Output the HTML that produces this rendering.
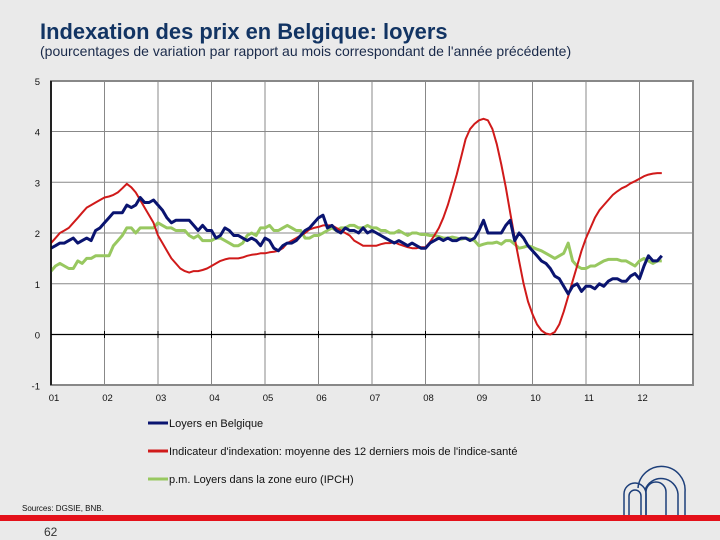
<!DOCTYPE html>
<html><head><meta charset="utf-8"><style>
body{margin:0;background:#eaeaea;}
svg{display:block;font-family:"Liberation Sans",sans-serif;}
</style></head><body>
<svg id="c" width="720" height="540">
<rect width="720" height="540" fill="#eaeaea"/>
<text x="40" y="39" font-size="21.9" font-weight="bold" fill="#123463">Indexation des prix en Belgique: loyers</text>
<text x="40" y="56" font-size="14" fill="#1a2a4a">(pourcentages de variation par rapport au mois correspondant de l'année précédente)</text>
<rect x="51" y="81" width="642" height="304" fill="#fff" stroke="#888" stroke-width="2"/>
<g id="grid"></g><g id="series"></g><g id="axes"></g>
<g>
<line x1="148" y1="423" x2="168" y2="423" stroke="#0a1470" stroke-width="3"/>
<text x="169" y="427" font-size="11" fill="#111">Loyers en Belgique</text>
<line x1="148" y1="451" x2="168" y2="451" stroke="#d01a1a" stroke-width="3"/>
<text x="169" y="455" font-size="11" fill="#111">Indicateur d'indexation: moyenne des 12 derniers mois de l'indice-santé</text>
<line x1="148" y1="479" x2="168" y2="479" stroke="#98c860" stroke-width="3"/>
<text x="169" y="483" font-size="11" fill="#111">p.m. Loyers dans la zone euro (IPCH)</text>
</g>
<text x="22" y="511" font-size="8" fill="#111">Sources: DGSIE, BNB.</text>
<rect x="0" y="515" width="720" height="6" fill="#e4111a"/>
<text x="44" y="536" font-size="12" fill="#333">62</text>
<g fill="none" stroke="#1d3f7a" stroke-width="1.5">
<path d="M624 515 V494 A11 11 0 0 1 646 494 V515"/>
<path d="M629 515 V496 A6 6 0 0 1 641 496 V515"/>
<path d="M646 515 V492 A10 10 0 0 1 666 492 V515"/>
<path d="M638 488 A23 23 0 0 1 685 492 V515"/>
<path d="M645 490 A17 17 0 0 1 678 494 V515"/>
</g>
</svg>
<script>
const yearLabels=["01","02","03","04","05","06","07","08","09","10","11","12"];
const yTicks=[-1,0,1,2,3,4,5];
const blue=[1.7,1.75,1.8,1.8,1.85,1.9,1.8,1.85,1.9,1.85,2.05,2.1,
2.2,2.3,2.4,2.4,2.4,2.55,2.5,2.55,2.7,2.6,2.6,2.65,
2.55,2.45,2.3,2.2,2.25,2.25,2.25,2.25,2.15,2.05,2.15,2.05,
2.05,1.9,1.95,2.1,2.05,1.95,1.95,1.9,1.85,1.9,1.85,1.75,
1.9,1.85,1.7,1.65,1.75,1.8,1.8,1.85,1.95,2.05,2.1,2.2,
2.3,2.35,2.1,2.15,2.05,2.0,2.1,2.05,2.05,2.0,2.1,2.0,
2.05,2.0,1.95,1.9,1.85,1.8,1.85,1.8,1.75,1.8,1.75,1.7,
1.7,1.8,1.85,1.9,1.85,1.9,1.85,1.85,1.9,1.9,1.85,1.9,
2.05,2.25,2.0,2.0,2.0,2.0,2.15,2.25,1.85,2.0,1.9,1.75,
1.65,1.55,1.45,1.4,1.3,1.15,1.1,0.95,0.8,0.95,1.0,0.85,
0.95,0.95,0.9,1.0,0.95,1.05,1.1,1.1,1.05,1.05,1.15,1.2,
1.1,1.35,1.55,1.45,1.45,1.55];
const red=[1.8,1.9,2.0,2.05,2.1,2.2,2.3,2.4,2.5,2.55,2.6,2.65,
2.7,2.72,2.75,2.8,2.88,2.97,2.9,2.8,2.65,2.5,2.35,2.2,
1.95,1.8,1.65,1.5,1.4,1.3,1.25,1.22,1.25,1.25,1.27,1.3,
1.35,1.4,1.45,1.48,1.5,1.5,1.5,1.52,1.55,1.57,1.58,1.6,
1.6,1.62,1.63,1.65,1.7,1.8,1.85,1.9,1.95,2.0,2.07,2.1,
2.12,2.15,2.15,2.15,2.1,2.05,2.0,1.95,1.85,1.8,1.75,1.75,
1.75,1.75,1.78,1.8,1.8,1.82,1.78,1.75,1.72,1.7,1.7,1.72,
1.72,1.82,1.95,2.1,2.3,2.55,2.85,3.15,3.5,3.85,4.05,4.15,
4.22,4.25,4.22,4.05,3.75,3.35,2.9,2.4,1.9,1.45,1.0,0.65,
0.4,0.2,0.08,0.02,0.0,0.05,0.2,0.45,0.75,1.05,1.35,1.65,
1.9,2.1,2.3,2.45,2.55,2.65,2.75,2.82,2.88,2.92,2.98,3.02,
3.07,3.12,3.15,3.17,3.18,3.18];
const green=[1.25,1.35,1.4,1.35,1.3,1.3,1.45,1.4,1.5,1.5,1.55,1.55,
1.55,1.55,1.75,1.85,1.95,2.1,2.1,2.0,2.1,2.1,2.1,2.1,
2.2,2.15,2.1,2.1,2.05,2.05,2.05,1.95,1.9,1.95,1.85,1.85,
1.85,1.9,1.9,1.85,1.8,1.75,1.75,1.8,1.95,2.0,1.95,2.1,
2.1,2.15,2.05,2.05,2.1,2.15,2.1,2.05,2.05,1.9,1.9,1.95,
1.95,2.0,2.05,2.1,2.05,2.1,2.1,2.15,2.15,2.1,2.1,2.15,
2.1,2.1,2.05,2.05,2.0,2.0,2.05,2.0,1.95,2.0,2.0,1.97,
1.97,1.95,1.95,1.93,1.9,1.9,1.92,1.9,1.88,1.9,1.88,1.85,
1.75,1.78,1.8,1.8,1.82,1.78,1.85,1.85,1.78,1.7,1.72,1.75,
1.72,1.68,1.65,1.6,1.55,1.5,1.55,1.6,1.8,1.45,1.35,1.3,
1.3,1.35,1.35,1.4,1.45,1.48,1.48,1.48,1.45,1.45,1.4,1.35,
1.45,1.5,1.45,1.4,1.45,1.45];
const NS="http://www.w3.org/2000/svg";
const X0=51,YW=53.5,Y0=334.5,U=50.75;
const xm=m=>X0+m*YW/12;
const yv=v=>Y0-v*U;
function mk(t,a,p){const e=document.createElementNS(NS,t);for(const k in a)e.setAttribute(k,a[k]);p.appendChild(e);return e;}
const grid=document.getElementById('grid'),axes=document.getElementById('axes'),ser=document.getElementById('series');
yTicks.forEach(v=>{
 const l=mk('line',{x1:X0,x2:693,y1:yv(v),y2:yv(v),stroke:v===0?'#000':'#888','stroke-width':v===0?1.3:1},grid);
 
 
 const t=mk('text',{x:40,y:yv(v)+4,'font-size':9.5,'text-anchor':'end',fill:'#111'},axes);
 t.textContent=v;
 
 
});
yearLabels.forEach((s,i)=>{
 const x=xm(i*12);
 if(i>0){const l=mk('line',{x1:x,x2:x,y1:81,y2:385,stroke:'#888','stroke-width':1},grid);
 
 }
 const tk=mk('line',{x1:x,x2:x,y1:331,y2:338,stroke:'#000'},axes);
 
 
 const t=mk('text',{x:x+3,y:401,'font-size':9.5,'text-anchor':'middle',fill:'#111'},axes);
 t.textContent=s;
 
 
});
const ax=mk('line',{x1:X0,x2:X0,y1:81,y2:385,stroke:'#000','stroke-width':1.5},axes);


function line(d,c,w,n){const p=mk('polyline',{points:d.map((v,i)=>xm(i).toFixed(1)+','+yv(v).toFixed(1)).join(' '),fill:'none',stroke:c,'stroke-width':w,'stroke-linejoin':'round'},ser);
 
 }
line(green,'#98c860',3,'series-loyers-zone-euro');
line(red,'#d01a1a',2,'series-indicateur-indexation');
line(blue,'#0a1470',3,'series-loyers-belgique');
</script>
</body></html>
